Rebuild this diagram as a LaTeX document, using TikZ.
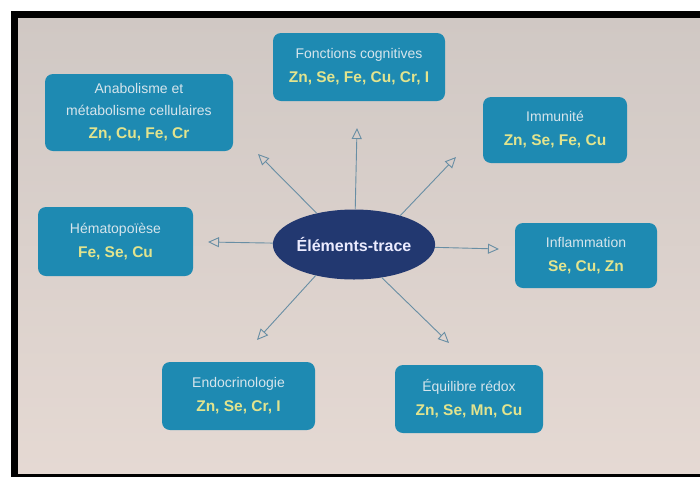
\documentclass[tikz,border=0pt]{standalone}
\usepackage{fontspec}
\setmainfont{Liberation Sans}
\usetikzlibrary{arrows.meta,shapes.geometric}
\definecolor{bgtop}{RGB}{208,200,196}
\definecolor{bgbot}{RGB}{229,217,211}
\definecolor{boxc}{RGB}{30,138,178}
\definecolor{ellc}{RGB}{34,56,112}
\definecolor{topt}{RGB}{214,229,236}
\definecolor{elt}{RGB}{226,228,142}
\definecolor{arrc}{RGB}{104,142,164}
\newcommand\toptxt[1]{{\color{topt}\fontsize{14}{22}\selectfont #1}}
\newcommand\elmtxt[1]{{\color{elt}\bfseries\fontsize{15.5}{22}\selectfont #1}}
\begin{document}
\begin{tikzpicture}[x=1pt,y=-1pt,
  box/.style={fill=boxc, rounded corners=8pt, inner sep=0pt, align=center,
    font=\fontsize{14}{24}\selectfont},
  centre/.style={ellipse, fill=ellc, inner sep=0pt, text=white!92!blue,
    font=\bfseries\fontsize{16}{19}\selectfont},
  link/.style={draw=arrc, line width=0.9pt,
    -{Triangle[open, length=11pt, width=10pt, line width=0.9pt]}}
]
\useasboundingbox (0,0) rectangle (700,477);
% photo frame and screen
\fill[white] (0,0) rectangle (700,477);
\fill[black] (11,11) rectangle (700,477);
\shade[top color=bgtop, bottom color=bgbot] (18,18) rectangle (700,473);

% centre
\node[centre, minimum width=158pt, minimum height=70pt] (ell) at (354,244.5) {Éléments-trace};

% boxes
\node[box, minimum width=172pt, minimum height=68pt] (cog) at (359,67)
  {\toptxt{Fonctions cognitives}\\\elmtxt{Zn, Se, Fe, Cu, Cr, I}};
\node[box, minimum width=188pt, minimum height=77pt] (ana) at (139,112.5)
  {\toptxt{Anabolisme et}\\[-2pt]\toptxt{métabolisme cellulaires}\\[-1pt]\elmtxt{Zn, Cu, Fe, Cr}};
\node[box, minimum width=144pt, minimum height=66pt] (imm) at (555,130)
  {\toptxt{Immunité}\\\elmtxt{Zn, Se, Fe, Cu}};
\node[box, minimum width=155pt, minimum height=69pt] (hem) at (115.5,241.5)
  {\toptxt{Hématopoïèse}\\\elmtxt{Fe, Se, Cu}};
\node[box, minimum width=142pt, minimum height=65pt] (inf) at (586,255.5)
  {\toptxt{Inflammation}\\\elmtxt{Se, Cu, Zn}};
\node[box, minimum width=153pt, minimum height=68pt] (endo) at (238.5,396)
  {\toptxt{Endocrinologie}\\\elmtxt{Zn, Se, Cr, I}};
\node[box, minimum width=148pt, minimum height=68pt] (redox) at (469,399)
  {\toptxt{Équilibre rédox}\\\elmtxt{Zn, Se, Mn, Cu}};

% arrow tips (free ends)
\coordinate (tU) at (357,128);
\coordinate (tUL) at (258,154);
\coordinate (tUR) at (456,157);
\coordinate (tL) at (208,242);
\coordinate (tR) at (499,249);
\coordinate (tDL) at (257,340);
\coordinate (tDR) at (449,343);

\draw[link] (ell.88) -- (tU);
\draw[link] (ell.140) -- (tUL);
\draw[link] (ell.32) -- (tUR);
\draw[link] (ell.179) -- (tL);
\draw[link] (ell.-2) -- (tR);
\draw[link] (ell.219) -- (tDL);
\draw[link] (ell.310) -- (tDR);
\end{tikzpicture}
\end{document}
